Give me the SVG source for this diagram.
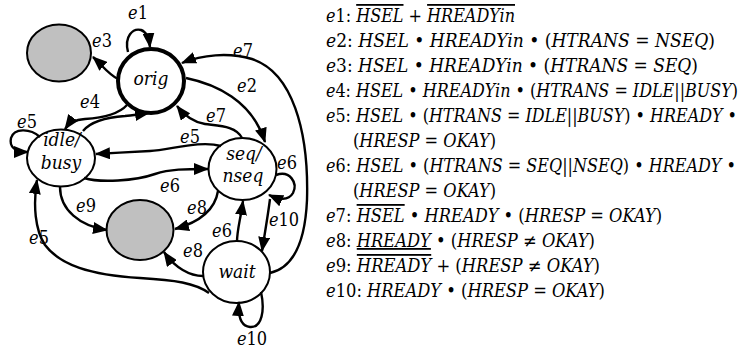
<svg xmlns="http://www.w3.org/2000/svg" width="741" height="352" viewBox="0 0 741 352">
  <style>
    .node { fill: #fff; stroke: #000; stroke-width: 2; }
    .sink { fill: #c0c0c0; stroke: #000; stroke-width: 2; }
    .start { fill: #fff; stroke: #000; stroke-width: 4; }
    .edge { fill: none; stroke: #000; stroke-width: 2.4; marker-end: url(#ah); }
    .serif { font-family: "DejaVu Serif Condensed", "DejaVu Serif", serif; font-stretch: condensed; }
    .nl { font-size: 19px; font-style: italic; text-anchor: middle; }
    .el { font-size: 18px; text-anchor: middle; }
    .it { font-style: italic; }
    .leg { font-size: 18px; }
    .ov { text-decoration: overline; }
    .ul { text-decoration: underline; }
  </style>
  <defs>
    <marker id="ah" markerUnits="userSpaceOnUse" markerWidth="15" markerHeight="12" refX="14" refY="6" orient="auto">
      <path d="M0,0 L15,6 L0,12 z" fill="#000"/>
    </marker>
  </defs>

  <!-- state nodes -->
  <g id="nodes" class="serif">
  <g id="node-err-top">
    <ellipse class="sink" cx="59" cy="53" rx="32" ry="28.5"/>
  </g>
  <g id="node-orig">
    <ellipse class="start" cx="151" cy="81" rx="33" ry="32"/>
    <text class="nl" x="151" y="85">orig</text>
  </g>
  <g id="node-idle">
    <ellipse class="node" cx="61" cy="158" rx="34" ry="28.5"/>
    <text class="nl" x="62" y="146">idle/</text>
    <text class="nl" x="61" y="169">busy</text>
  </g>
  <g id="node-seq">
    <ellipse class="node" cx="242.5" cy="169" rx="34" ry="31"/>
    <text class="nl" x="244" y="160">seq/</text>
    <text class="nl" x="243" y="182">nseq</text>
  </g>
  <g id="node-err-bottom">
    <ellipse class="sink" cx="140" cy="230" rx="33.5" ry="30"/>
  </g>
  <g id="node-wait">
    <ellipse class="node" cx="236.5" cy="272" rx="33.5" ry="31"/>
    <text class="nl" x="237" y="278">wait</text>
  </g>
  </g>

  <!-- transitions -->
  <g id="connectors">
    <path class="edge" d="M128,52 C124,36 133,28 141,30 C147,32 149,38 150,47"/>
    <path class="edge" d="M118,79 C108,74 103,66 93,57"/>
    <path class="edge" d="M270,273 C292,268 305,245 307,200 C309,130 292,72 252,59 C228,52 202,55 182,63"/>
    <path class="edge" d="M186,78 C215,84 252,100 265,142"/>
    <path class="edge" d="M242,138 C236,126 220,126 205,124 C192,122 184,115 177,106"/>
    <path class="edge" d="M127,105 C118,115 100,118 85,119 C75,120 70,122 65,129"/>
    <path class="edge" d="M83,131 C92,120 110,117 125,116 C135,115 142,114 149,113"/>
    <path class="edge" d="M221,146 C200,140 170,150 150,151 C130,152 115,153 96,154"/>
    <path class="edge" d="M84,178 C100,183 135,181 155,174 C170,169 185,169 208,169"/>
    <path class="edge" d="M276,175 C290,170 298,183 293,193 C289,200 280,200 269,195"/>
    <path class="edge" d="M270,199 C268,215 265,232 262,251"/>
    <path class="edge" d="M237,242 C237,230 240,222 243,201"/>
    <path class="edge" d="M218,191 C215,210 200,222 175,229"/>
    <path class="edge" d="M60,187 C60,210 80,226 107,230"/>
    <path class="edge" d="M203,276 C190,276 175,268 164,252"/>
    <path class="edge" d="M209,293 C195,283 175,280 140,278 C90,275 60,265 45,245 C35,230 33,205 37,180"/>
    <path class="edge" d="M40,137 C30,128 14,128 11,138 C9,147 15,152 28,152"/>
    <path class="edge" d="M261,292 C265,310 262,328 250,327 C240,326 238,315 239,302"/>
  </g>

  <!-- transition labels -->
  <g id="edge-labels" class="serif">
    <text class="el" x="138" y="19"><tspan class="it">e</tspan>1</text>
    <text class="el" x="102" y="47"><tspan class="it">e</tspan>3</text>
    <text class="el" x="243" y="57"><tspan class="it">e</tspan>7</text>
    <text class="el" x="247" y="92"><tspan class="it">e</tspan>2</text>
    <text class="el" x="90" y="108"><tspan class="it">e</tspan>4</text>
    <text class="el" x="216" y="122"><tspan class="it">e</tspan>7</text>
    <text class="el" x="27" y="128"><tspan class="it">e</tspan>5</text>
    <text class="el" x="190" y="143"><tspan class="it">e</tspan>5</text>
    <text class="el" x="287" y="169"><tspan class="it">e</tspan>6</text>
    <text class="el" x="170" y="192"><tspan class="it">e</tspan>6</text>
    <text class="el" x="86" y="212"><tspan class="it">e</tspan>9</text>
    <text class="el" x="197" y="214"><tspan class="it">e</tspan>8</text>
    <text class="el" x="39" y="244"><tspan class="it">e</tspan>5</text>
    <text class="el" x="284" y="226"><tspan class="it">e</tspan>10</text>
    <text class="el" x="222" y="237"><tspan class="it">e</tspan>6</text>
    <text class="el" x="193" y="257"><tspan class="it">e</tspan>8</text>
    <text class="el" x="252" y="345"><tspan class="it">e</tspan>10</text>
  </g>

  <!-- transition conditions -->
  <g id="legend" class="leg serif">
    <text x="326" y="22" textLength="189" lengthAdjust="spacingAndGlyphs"><tspan class="it">e</tspan>1: <tspan class="it ov">HSEL</tspan> + <tspan class="it ov">HREADYin</tspan></text>
    <text x="326" y="47" textLength="389" lengthAdjust="spacingAndGlyphs"><tspan class="it">e</tspan>2: <tspan class="it">HSEL</tspan> • <tspan class="it">HREADYin</tspan> • (<tspan class="it">HTRANS</tspan> = <tspan class="it">NSEQ</tspan>)</text>
    <text x="326" y="72" textLength="372" lengthAdjust="spacingAndGlyphs"><tspan class="it">e</tspan>3: <tspan class="it">HSEL</tspan> • <tspan class="it">HREADYin</tspan> • (<tspan class="it">HTRANS</tspan> = <tspan class="it">SEQ</tspan>)</text>
    <text x="326" y="97" textLength="412" lengthAdjust="spacingAndGlyphs"><tspan class="it">e</tspan>4: <tspan class="it">HSEL</tspan> • <tspan class="it">HREADYin</tspan> • (<tspan class="it">HTRANS</tspan> = <tspan class="it">IDLE</tspan>||<tspan class="it">BUSY</tspan>)</text>
    <text x="326" y="122" textLength="411" lengthAdjust="spacingAndGlyphs"><tspan class="it">e</tspan>5: <tspan class="it">HSEL</tspan> • (<tspan class="it">HTRANS</tspan> = <tspan class="it">IDLE</tspan>||<tspan class="it">BUSY</tspan>) • <tspan class="it">HREADY</tspan> •</text>
    <text x="353" y="147" textLength="143" lengthAdjust="spacingAndGlyphs">(<tspan class="it">HRESP</tspan> = <tspan class="it">OKAY</tspan>)</text>
    <text x="326" y="172" textLength="410" lengthAdjust="spacingAndGlyphs"><tspan class="it">e</tspan>6: <tspan class="it">HSEL</tspan> • (<tspan class="it">HTRANS</tspan> = <tspan class="it">SEQ</tspan>||<tspan class="it">NSEQ</tspan>) • <tspan class="it">HREADY</tspan> •</text>
    <text x="353" y="197" textLength="143" lengthAdjust="spacingAndGlyphs">(<tspan class="it">HRESP</tspan> = <tspan class="it">OKAY</tspan>)</text>
    <text x="326" y="222" textLength="336" lengthAdjust="spacingAndGlyphs"><tspan class="it">e</tspan>7: <tspan class="it ov">HSEL</tspan> • <tspan class="it">HREADY</tspan> • (<tspan class="it">HRESP</tspan> = <tspan class="it">OKAY</tspan>)</text>
    <text x="326" y="247" textLength="269" lengthAdjust="spacingAndGlyphs"><tspan class="it">e</tspan>8: <tspan class="it ul">HREADY</tspan> • (<tspan class="it">HRESP</tspan> ≠ <tspan class="it">OKAY</tspan>)</text>
    <text x="326" y="272" textLength="274" lengthAdjust="spacingAndGlyphs"><tspan class="it">e</tspan>9: <tspan class="it ov">HREADY</tspan> + (<tspan class="it">HRESP</tspan> ≠ <tspan class="it">OKAY</tspan>)</text>
    <text x="326" y="297" textLength="279" lengthAdjust="spacingAndGlyphs"><tspan class="it">e</tspan>10: <tspan class="it">HREADY</tspan> • (<tspan class="it">HRESP</tspan> = <tspan class="it">OKAY</tspan>)</text>
  </g>
</svg>
